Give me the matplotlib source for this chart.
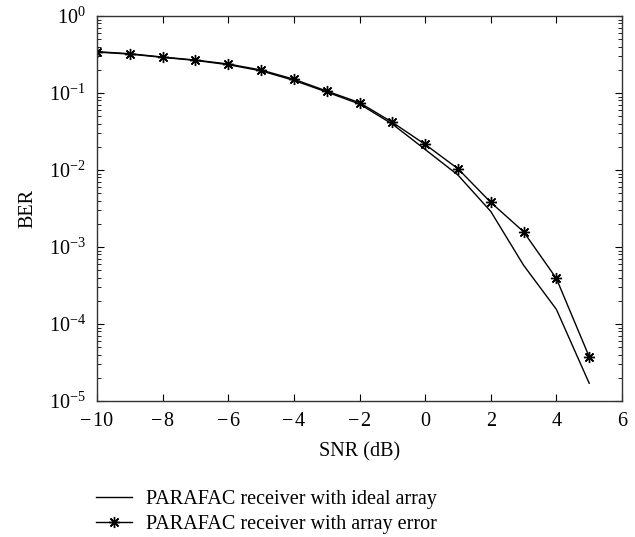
import matplotlib.pyplot as plt
from matplotlib.ticker import LogLocator, NullFormatter

plt.rcParams['font.family'] = ['Liberation Serif', 'DejaVu Serif']
plt.rcParams['mathtext.fontset'] = 'stix'

snr = [-10, -9, -8, -7, -6, -5, -4, -3, -2, -1, 0, 1, 2, 3, 4, 5]
ber_ideal = [0.340, 0.320, 0.290, 0.265, 0.233, 0.194, 0.146, 0.103, 0.072,
             0.0395, 0.0185, 0.0086, 0.0029, 5.8e-4, 1.55e-4, 1.7e-5]
ber_error = [0.344, 0.324, 0.293, 0.268, 0.238, 0.199, 0.151, 0.106, 0.075,
             0.0417, 0.0215, 0.0104, 0.0038, 1.58e-3, 3.9e-4, 3.76e-5]
xtick_vals = [-10, -8, -6, -4, -2, 0, 2, 4, 6]
xtick_text = ['\u2212\u200a10', '\u2212\u200a8', '\u2212\u200a6', '\u2212\u200a4',
              '\u2212\u200a2', '0', '2', '4', '6']

fs = 14.5

fig = plt.figure(figsize=(6.35, 5.37), dpi=100)
ax = fig.add_axes([97 / 635, 1 - 401 / 537, 525 / 635, 385 / 537])

ax.semilogy(snr, ber_ideal, color='black', linewidth=1.0,
            label='PARAFAC receiver with ideal array')
ax.semilogy(snr, ber_error, color='black', linewidth=1.0,
            marker=(8, 2, 0), markersize=8, markeredgewidth=1.0,
            label='PARAFAC receiver with array error')

ax.set_xlim(-10, 6)
ax.set_ylim(1e-5, 1)
ax.set_xticks(xtick_vals)
ax.set_xticklabels(xtick_text)
ax.yaxis.set_major_locator(LogLocator(base=10, numticks=10))
ax.yaxis.set_minor_locator(LogLocator(base=10, subs=range(2, 10), numticks=10))
ax.yaxis.set_minor_formatter(NullFormatter())

ax.tick_params(which='both', direction='in', top=True, right=True,
               labelsize=fs, colors='black')
ax.tick_params(which='major', length=5, pad=8)
ax.tick_params(which='minor', length=3)
for s in ax.spines.values():
    s.set_linewidth(1.0)
    s.set_color('#333333')

ax.set_xlabel('SNR (dB)', fontsize=fs, labelpad=8)
ax.set_ylabel('BER', fontsize=fs, labelpad=8)

fig.legend(loc='upper left', bbox_to_anchor=(88 / 635, 1 - 482 / 537),
           frameon=False, fontsize=fs, handlelength=1.8, handletextpad=0.7,
           labelspacing=0.3, borderaxespad=0)

fig.savefig('out.png', dpi=100)
